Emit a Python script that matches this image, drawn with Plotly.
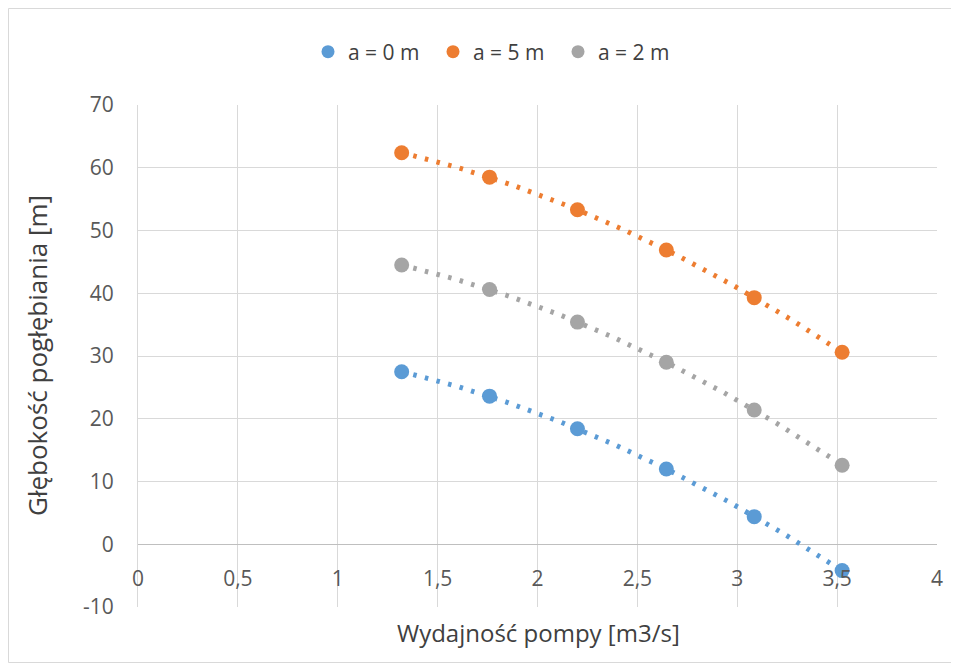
import numpy as np
import plotly.graph_objects as go

# Data
x_vals = [1.32, 1.76, 2.20, 2.645, 3.085, 3.525]
a0 = [27.5, 23.6, 18.4, 12.0, 4.4, -4.2]
a5 = [62.4, 58.5, 53.3, 46.9, 39.3, 30.6]
a2 = [44.5, 40.6, 35.4, 29.0, 21.4, 12.6]
series_names = ["a = 0 m", "a = 5 m", "a = 2 m"]
colors = ["#5B9BD5", "#ED7D31", "#A5A5A5"]
x_ticks = [0, 0.5, 1, 1.5, 2, 2.5, 3, 3.5, 4]
y_ticks = [-10, 0, 10, 20, 30, 40, 50, 60, 70]
y_tick_labels = ["-10", "0", "10", "20", "30", "40", "50", "60", "70"]

OFF = 8  # page body offset
W, H = 951, 663
L, T = 138 - OFF, 105 - OFF
pw, ph = 799, 502
R = W - L - pw
B = H - T - ph
FONT = "Open Sans"

fig = go.Figure()
xs = np.array(x_vals)
xd = np.linspace(xs.min(), xs.max(), 200)
for ys, name, col in zip([a0, a5, a2], series_names, colors):
    coef = np.polyfit(xs, np.array(ys), 2)
    fig.add_trace(go.Scatter(x=xd, y=np.polyval(coef, xd), mode="lines",
                             line=dict(color=col, width=5, dash="3.5px,8.5px"),
                             showlegend=False, hoverinfo="skip"))
for ys, name, col in zip([a0, a5, a2], series_names, colors):
    fig.add_trace(go.Scatter(x=x_vals, y=ys, mode="markers", name=name,
                             marker=dict(color=col, size=15), showlegend=False))
    fig.add_trace(go.Scatter(x=[None], y=[None], mode="markers", name=name,
                             marker=dict(color=col, size=13), showlegend=True))

def px_x(p):  # page pixel -> paper x
    return (p - OFF - L) / pw
def px_y(p):  # page pixel -> paper y
    return (T + ph - (p - OFF)) / ph

fig.add_shape(type="rect", xref="paper", yref="paper",
              x0=px_x(8.5), x1=px_x(951.5), y0=px_y(662.5), y1=px_y(8.5),
              line=dict(color="#D9D9D9", width=1), fillcolor="rgba(0,0,0,0)", layer="below")

fig.update_layout(
    width=W, height=H,
    margin=dict(l=L, r=R, t=T, b=B),
    paper_bgcolor="white", plot_bgcolor="white",
    separators=", ",
    font=dict(family=FONT, color="#595959", size=21),
    legend=dict(orientation="h", xref="container", yref="container",
                x=(308 - OFF) / W, xanchor="left", y=1 - (52 - OFF) / H, yanchor="middle",
                font=dict(size=21, color="#404040"), itemwidth=30,
                entrywidth=80, entrywidthmode="pixels", tracegroupgap=0),
    xaxis=dict(range=[0, 4], tickvals=x_ticks, showgrid=True, gridcolor="#D9D9D9",
               gridwidth=1, zeroline=False, showline=False, anchor="free",
               position=10 / 80, ticks="", ticklabelstandoff=20,
               tickfont=dict(size=21, color="#595959")),
    yaxis=dict(range=[-10, 70], tickvals=y_ticks, ticktext=y_tick_labels,
               showgrid=True, gridcolor="#D9D9D9",
               gridwidth=1, zeroline=True, zerolinecolor="#BFBFBF", zerolinewidth=1,
               showline=True, linecolor="#D9D9D9", linewidth=1, ticks="",
               ticklabelstandoff=19, tickfont=dict(size=21, color="#595959")),
    annotations=[
        dict(text="Wydajność pompy [m3/s]", xref="paper", yref="paper",
             x=px_x(538), y=px_y(632), xanchor="center", yanchor="middle",
             showarrow=False, font=dict(size=24, color="#404040", family=FONT)),
        dict(text="Głębokość pogłębiania [m]", xref="paper", yref="paper",
             x=px_x(37), y=px_y(356), xanchor="center", yanchor="middle",
             textangle=-90, showarrow=False, font=dict(size=26, color="#404040", family=FONT)),
    ],
)
fig.write_html("out.html")
